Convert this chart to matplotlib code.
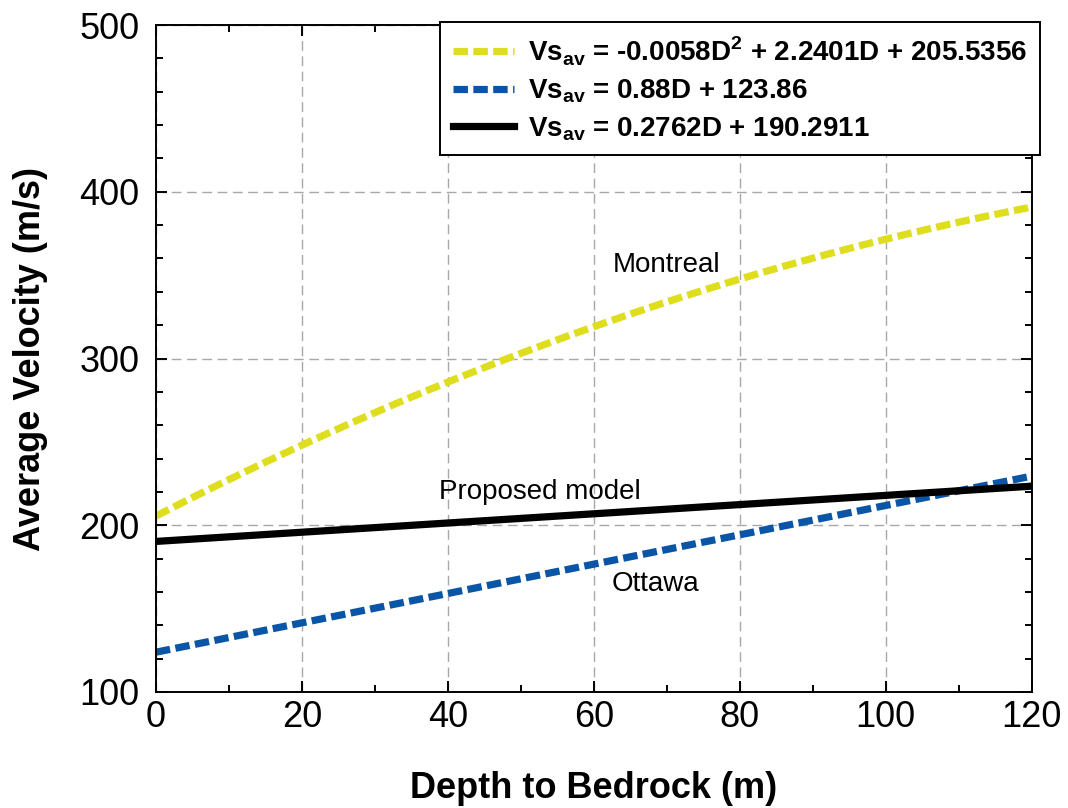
import numpy as np
import matplotlib.pyplot as plt
from matplotlib.ticker import MultipleLocator

plt.rcParams['font.family'] = ['Liberation Sans', 'DejaVu Sans']

# Depth samples (m) and fitted curve coefficients (highest power first)
depth = np.linspace(0, 120, 121)
montreal_coef = [-0.0058, 2.2401, 205.5356]
ottawa_coef = [0.88, 123.86]
proposed_coef = [0.2762, 190.2911]

legend_labels = [
    r'Vs$_{\mathregular{av}}$ = -0.0058D$^{\mathregular{2}}$ + 2.2401D + 205.5356',
    r'Vs$_{\mathregular{av}}$ = 0.88D + 123.86',
    r'Vs$_{\mathregular{av}}$ = 0.2762D + 190.2911',
]

fig = plt.figure(figsize=(10.68, 8.08), dpi=100)
ax = fig.add_axes([0.146, 0.1436, 0.820, 0.8254])

ax.plot(depth, np.polyval(montreal_coef, depth), color='#dede1f', lw=5.2,
        dashes=(2.0, 0.75), label=legend_labels[0])
ax.plot(depth, np.polyval(ottawa_coef, depth), color='#0a55a5', lw=5.2,
        dashes=(2.0, 0.75), label=legend_labels[1])
ax.plot(depth, np.polyval(proposed_coef, depth), color='black', lw=5.2,
        label=legend_labels[2])

ax.set_xlim(0, 120)
ax.set_ylim(100, 500)
ax.xaxis.set_major_locator(MultipleLocator(20))
ax.xaxis.set_minor_locator(MultipleLocator(10))
ax.yaxis.set_major_locator(MultipleLocator(100))
ax.yaxis.set_minor_locator(MultipleLocator(20))
ax.tick_params(which='both', direction='in', top=True, right=True,
               labelsize=26, width=1.4)
ax.tick_params(which='major', length=8)
ax.tick_params(which='minor', length=5)
ax.tick_params(axis='x', pad=6)
ax.tick_params(axis='y', pad=12)
ax.grid(True, which='major', color='#a8a8a8', ls=(0, (7, 4)), lw=1.0)
for sp in ax.spines.values():
    sp.set_linewidth(1.4)

ax.set_xlabel('Depth to Bedrock (m)', fontsize=26, fontweight='bold', labelpad=26)
ax.set_ylabel('Average Velocity (m/s)', fontsize=26, fontweight='bold', labelpad=22)

ax.text(70, 356, 'Montreal', fontsize=20, ha='center', va='center')
ax.text(52.6, 220, 'Proposed model', fontsize=20, ha='center', va='center')
ax.text(68.4, 165, 'Ottawa', fontsize=20, ha='center', va='center')

leg = ax.legend(loc='upper right', bbox_to_anchor=(1.009, 1.005),
                prop={'weight': 'bold', 'size': 20}, fancybox=False,
                edgecolor='black', framealpha=1, handlelength=2.2,
                handletextpad=0.5, borderpad=0.45, labelspacing=0.35,
                borderaxespad=0)
leg.get_frame().set_linewidth(1.4)
leg.set_zorder(5)

fig.savefig('out.png', dpi=100)
